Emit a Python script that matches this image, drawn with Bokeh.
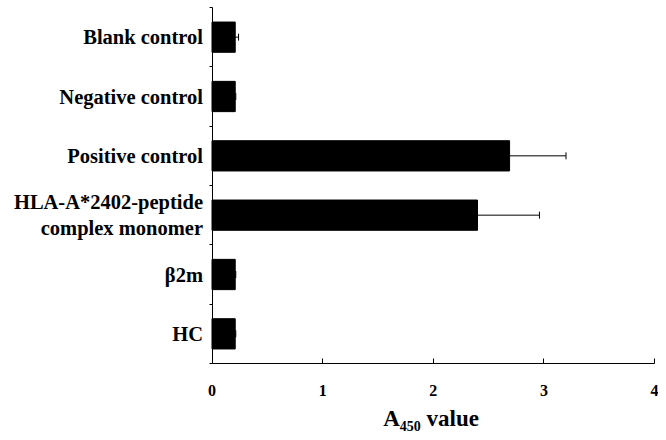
from bokeh.plotting import figure
from bokeh.models import FixedTicker, Whisker, TeeHead, ColumnDataSource, Label, Range1d
from bokeh.embed import file_html
from bokeh.resources import INLINE

# Data (bottom to top)
categories = ["HC", "β2m", "HLA-A*2402-peptide\ncomplex monomer",
              "Positive control", "Negative control", "Blank control"]
values = [0.21, 0.21, 2.40, 2.69, 0.21, 0.21]
errors = [0.005, 0.005, 0.56, 0.51, 0.005, 0.03]
x_ticks = [0, 1, 2, 3, 4]
x_title_parts = ["A", "450", "value"]

FONT = "Liberation Serif"

# layout (figure pixels; the frame covers the whole figure, axes are pinned at 0)
W, H = 658, 432
X0_PX, X4_PX = 211.5, 654.0     # pixel columns of x = 0 and x = 4
Y6_PX, Y0_PX = 7.0, 363.0       # pixel rows of the top and bottom of the category band
n = len(categories)
xu = (X4_PX - X0_PX) / (x_ticks[-1] - x_ticks[0])
yu = (Y0_PX - Y6_PX) / n
x_range = Range1d(-X0_PX / xu, (W - X0_PX) / xu)
y_range = Range1d(-(H - Y0_PX) / yu, n + Y6_PX / yu)

pos = [i + 0.5 for i in range(n)]
bounds = list(range(n + 1))
src = ColumnDataSource(dict(
    y=pos, v=values, upper=[v + e for v, e in zip(values, errors)]))

p = figure(width=W, height=H, x_range=x_range, y_range=y_range,
           output_backend="svg", toolbar_location=None,
           min_border_left=0, min_border_right=0,
           min_border_top=0, min_border_bottom=0)

p.hbar(y="y", right="v", left=0, height=0.51, source=src,
       fill_color="black", line_color="black")

w = Whisker(base="y", lower="v", upper="upper", dimension="width", source=src,
            lower_head=None,
            upper_head=TeeHead(size=7, line_color="black", line_width=1),
            line_color="black", line_width=1)
p.add_layout(w)

p.grid.visible = False
p.outline_line_color = None

xa = p.xaxis[0]
xa.fixed_location = 0
xa.bounds = (x_ticks[0], x_ticks[-1])
xa.ticker = FixedTicker(ticks=x_ticks)
xa.major_tick_in = 5
xa.major_tick_out = 0
xa.minor_tick_line_color = None
xa.axis_line_color = "black"
xa.major_tick_line_color = "black"
xa.major_label_text_font = FONT
xa.major_label_text_font_style = "bold"
xa.major_label_text_font_size = "16px"
xa.major_label_text_color = "black"
xa.major_label_standoff = 21

ya = p.yaxis[0]
ya.fixed_location = 0
ya.bounds = (0, n)
ya.ticker = FixedTicker(ticks=pos, minor_ticks=bounds)
ya.major_label_overrides = {pv: c for pv, c in zip(pos, categories)}
ya.major_tick_in = 0
ya.major_tick_out = 0
ya.minor_tick_in = 0
ya.minor_tick_out = 3
ya.minor_tick_line_color = "black"
ya.axis_line_color = "black"
ya.major_label_text_font = FONT
ya.major_label_text_font_style = "bold"
ya.major_label_text_font_size = "20.5px"
ya.major_label_text_color = "black"
ya.major_label_standoff = 6

# x-axis title with subscript (screen units relative to the plot frame)
p.add_layout(Label(x=382.7, y=14, x_units="screen", y_units="screen",
                   text=x_title_parts[0], text_font=FONT, text_font_style="bold",
                   text_font_size="23px", text_baseline="alphabetic",
                   text_align="left", text_color="black"))
p.add_layout(Label(x=399.3, y=7, x_units="screen", y_units="screen",
                   text=x_title_parts[1], text_font=FONT, text_font_style="bold",
                   text_font_size="14px", text_baseline="alphabetic",
                   text_align="left", text_color="black"))
p.add_layout(Label(x=426, y=14, x_units="screen", y_units="screen",
                   text=x_title_parts[2], text_font=FONT, text_font_style="bold",
                   text_font_size="23px", text_baseline="alphabetic",
                   text_align="left", text_color="black"))

open("out.html", "w").write(file_html(p, INLINE))
